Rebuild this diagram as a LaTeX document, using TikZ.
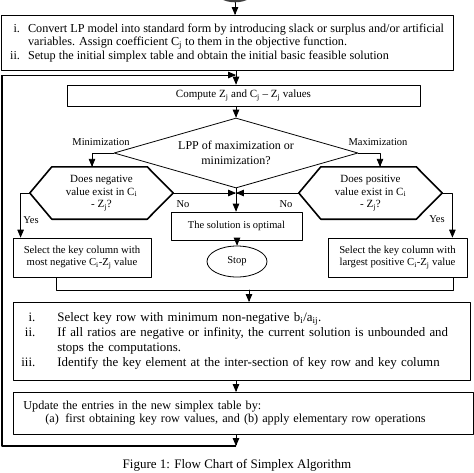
\documentclass[tikz,border=0pt]{standalone}
\usepackage{fontspec}
\setmainfont{Liberation Serif}
\usetikzlibrary{arrows,shapes.geometric}
\definecolor{sqsqsq}{rgb}{0.25,0.25,0.25}

\begin{document}
\begin{tikzpicture}[line cap=round,line join=round,>=triangle 45,x=1pt,y=-1pt,
	box/.style={draw,line width=0.8pt,rectangle,inner sep=0pt,align=center},
	hexbox/.style={rectangle,minimum width=143pt,minimum height=52pt,inner sep=0pt,align=center,font=\fontsize{11}{12.5}\selectfont},
	hexline/.style={line width=1.6pt},
	lbl/.style={font=\fontsize{10.5}{12}\selectfont},
	flow/.style={->,line width=0.8pt},
	loopline/.style={line width=1.4pt,line cap=butt}]
	\useasboundingbox (0,0) rectangle (474,472);
	% start and set-up
	\node[ellipse,fill=sqsqsq,minimum width=40pt,minimum height=24pt,inner sep=0pt,anchor=south] (start) at (235,2.5) {};
	\node[box,anchor=north west,minimum width=452.5pt,minimum height=55pt,font=\fontsize{12.2}{13.5}\selectfont] (init) at (0.5,15) {\begin{tabular}{@{}r@{\hspace{8pt}}l@{}}
		i. & Convert LP model into standard form by introducing slack or surplus and/or artificial\\
		& variables. Assign coefficient C\textsubscript{j} to them in the objective function.\\
		ii. & Setup the initial simplex table and obtain the initial basic feasible solution
		\end{tabular}};
	\node[box,minimum width=353pt,minimum height=21pt,font=\fontsize{11}{12}\selectfont] (compute) at (243.5,95.5) {Compute Z\textsubscript{j} and C\textsubscript{j} -- Z\textsubscript{j} values};
	\node[diamond,draw,line width=0.8pt,aspect=3.5,minimum width=244pt,minimum height=70pt,inner sep=0pt,align=center,font=\fontsize{12}{15}\selectfont] (decide) at (236,153) {LPP of maximization or\\minimization?};
	% the two tests
	\node[hexbox] (neghex) at (101.5,193) {Does negative\\value exist in C\textsubscript{i}\\- Z\textsubscript{j}?};
	\node[hexbox] (poshex) at (370.5,193) {Does positive\\value exist in C\textsubscript{i}\\- Z\textsubscript{j}?};
	\foreach \h in {neghex,poshex}
	\draw[hexline] (\h.west) -- ([xshift=22pt]\h.north west) -- ([xshift=-26pt]\h.north east) -- (\h.east) -- ([xshift=-26pt]\h.south east) -- ([xshift=22pt]\h.south west) -- cycle;
	\node[box,minimum width=131pt,minimum height=28pt,font=\fontsize{10.5}{12}\selectfont] (optimal) at (236.5,226) {The solution is optimal};
	\node[ellipse,draw,line width=0.8pt,minimum width=60pt,minimum height=31pt,inner sep=0pt,font=\fontsize{10.5}{12}\selectfont] (stop) at (237,261.5) {Stop};
	\node[box,minimum width=138pt,minimum height=39pt,font=\fontsize{10.7}{12}\selectfont] (negsel) at (82,257.5) {Select the key column with\\most negative C\textsubscript{i}-Z\textsubscript{j} value};
	\node[box,minimum width=139pt,minimum height=39pt,font=\fontsize{10.7}{12}\selectfont] (possel) at (397.5,257.5) {Select the key column with\\largest positive C\textsubscript{i}-Z\textsubscript{j} value};
	% pivot and update
	\node[box,anchor=north west,minimum width=457pt,minimum height=78pt,text width=441pt,inner xsep=8pt,align=left,font=\fontsize{12.9}{15}\selectfont] (keyrow) at (13,302) {\begin{tabular}{@{}r@{\hspace{22pt}}l@{}}
		i. & Select key row with minimum non-negative b\textsubscript{i}/a\textsubscript{ij}.\\
		ii. & If all ratios are negative or infinity, the current solution is unbounded and\\
		& stops the computations.\\
		iii. & Identify the key element at the inter-section of key row and key column
		\end{tabular}};
	\node[box,anchor=north west,minimum width=460pt,minimum height=42pt,text width=440pt,inner xsep=10pt,align=left,font=\fontsize{12.2}{13}\selectfont] (update) at (13,392) {Update the entries in the new simplex table by:\\
		\hspace*{22pt}(a)\hspace{6.5pt}first obtaining key row values, and (b) apply elementary row operations};
	\node[font=\fontsize{13}{15}\selectfont] (caption) at (237,465) {Figure 1: Flow Chart of Simplex Algorithm};
	% labels
	\begin{scope}[every node/.style={lbl}]
	\node (minlbl) at (101,142) {Minimization};
	\node (maxlbl) at (378,142) {Maximization};
	\node (nol) at (183,204) {No};
	\node (nor) at (286,204) {No};
	\node (yesl) at (31,220) {Yes};
	\node (yesr) at (437,219) {Yes};
	\end{scope}
	\coordinate (meet) at (236,193);
	\coordinate (loopend) at (236,446);
	\coordinate (ltop) at (2,75);
	\coordinate (mleft) at (56,290);
	\coordinate (mright) at (453,290);
	\coordinate (mjoin) at (249,290);
	% connectors
	\draw[flow] (start.south) -- (init.north -| start.south);
	\draw[flow] (init.south -| decide.north) -- (compute.north -| decide.north);
	\draw[flow] (compute.south -| decide.north) -- (decide.north);
	\draw[flow] (decide.west) -| ([xshift=-9.5pt]neghex.north);
	\draw[flow] (decide.east) -| ([xshift=9.5pt]poshex.north);
	\draw[flow] (neghex.east) -- (meet);
	\draw[flow] (poshex.west) -- (meet);
	\draw[flow] (decide.south) -- (optimal.north -| decide.south);
	\draw[flow] (optimal.south -| stop.north) -- (stop.north);
	\draw[flow] (neghex.west) -| ([xshift=8pt]negsel.north west);
	\draw[flow] (poshex.east) -| ([xshift=-15pt]possel.north east);
	\draw[line width=0.8pt] (negsel.south -| mleft) -- (mleft) -- (mright) -- (possel.south -| mright);
	\draw[flow] (mjoin) -- (keyrow.north -| mjoin);
	\draw[flow] (keyrow.south -| decide.north) -- (update.north -| decide.north);
	\draw[flow] (update.south -| decide.north) -- (loopend);
	\draw[loopline] (loopend) -| (ltop);
	\draw[flow] (ltop) -- (ltop -| decide.north);
\end{tikzpicture}
\end{document}
